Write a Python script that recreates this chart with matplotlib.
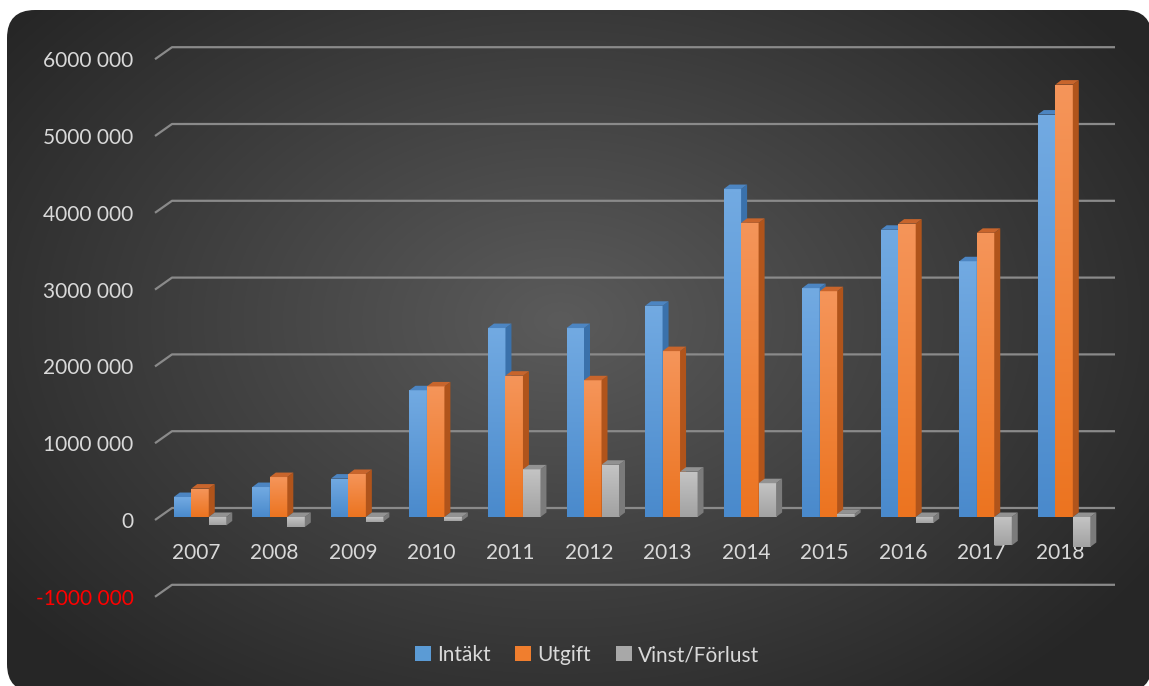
import numpy as np
import matplotlib
matplotlib.use('Agg')
import matplotlib.pyplot as plt
from matplotlib.patches import Polygon, Patch, FancyBboxPatch
from matplotlib.transforms import ScaledTranslation
from matplotlib.colors import to_rgb

plt.rcParams['font.family'] = ['Lato', 'DejaVu Sans']
plt.rcParams['font.size'] = 15

# data (kronor)
years = ['2007', '2008', '2009', '2010', '2011', '2012',
         '2013', '2014', '2015', '2016', '2017', '2018']
intakt = [260000, 390000, 500000, 1650000, 2460000, 2460000,
          2750000, 4270000, 2980000, 3740000, 3330000, 5240000]
utgift = [370000, 520000, 560000, 1700000, 1840000, 1780000,
          2160000, 3830000, 2940000, 3820000, 3700000, 5630000]
vinst = [-110000, -130000, -60000, -50000, 620000, 680000,
         590000, 440000, 40000, -80000, -370000, -390000]
series_names = ['Intäkt', 'Utgift', 'Vinst/Förlust']
yticks = [-1000000, 0, 1000000, 2000000, 3000000, 4000000, 5000000, 6000000]
ytick_labels = ['-1000 000', '0', '1000 000', '2000 000', '3000 000',
                '4000 000', '5000 000', '6000 000']

# colours: front top, front bottom, side, top cap
styles = [
    ('#72aae2', '#4a8acc', '#3a71ab', '#4c85c2'),
    ('#f5955a', '#ec7420', '#b0541b', '#c8652c'),
    ('#c4c4c4', '#a2a2a2', '#7b7b7b', '#929292'),
]
text_col = '#d9d9d9'

W, H = 1149, 686
fig = plt.figure(figsize=(W / 100, H / 100), dpi=100)
fig.patch.set_facecolor('white')

# dark rounded panel with a radial gradient
bg = fig.add_axes([0, 0, 1, 1])
bg.set_xlim(0, W)
bg.set_ylim(H, 0)
bg.axis('off')
yy, xx = np.mgrid[0:H, 0:W]
r = np.sqrt(((xx - 560) / 700) ** 2 + ((yy - 320) / 480) ** 2)
t = np.clip(r, 0, 1)[..., None]
c0 = np.array(to_rgb('#5b5b5b'))
c1 = np.array(to_rgb('#262626'))
img = c0 * (1 - t) + c1 * t
panel = FancyBboxPatch((7, 10), 1145, 682, boxstyle='round,pad=0,rounding_size=28',
                       fc='none', ec='none')
bg.add_patch(panel)
im = bg.imshow(img, extent=(0, W, H, 0), aspect='auto', interpolation='bilinear')
im.set_clip_path(panel)

# main axes, placed in pixel terms
left_px, right_px, top_px, bot_px = 155, 1120, 30, 620
ax = fig.add_axes([left_px / W, 1 - bot_px / H, (right_px - left_px) / W, (bot_px - top_px) / H])
ax.set_facecolor('none')
x_px0, x_step = 196, 78.55
y_px0, y_step = 520, 76.8e-6
xlim = ((left_px - x_px0) / x_step, (right_px - x_px0) / x_step)
ylim = ((y_px0 - bot_px) / y_step, (y_px0 - top_px) / y_step)
sx = 1 / x_step        # data x per pixel
sy = 1 / y_step        # data y per pixel

# 3d-ish gridlines on the back wall
x_end = (1115 - x_px0) / x_step
for v in yticks:
    ax.plot([xlim[0], xlim[0] + 17 * sx, x_end], [v, v + 12 * sy, v + 12 * sy],
            color='#8a8a8a', lw=1.6, zorder=1, clip_on=False, solid_capstyle='butt')

# bars sit a few pixels behind the front edge
bar_tr = ax.transData + ScaledTranslation(0.04, 0.03, fig.dpi_scale_trans)
bw = 17.5 * sx
dx, dy = 6 * sx, 4.5 * sy
grad = np.linspace(0, 1, 64)[:, None]

for k, vals in enumerate([intakt, utgift, vinst]):
    ftop, fbot, side_c, top_c = styles[k]
    cols = np.array(to_rgb(ftop)) * (1 - grad[..., None]) + np.array(to_rgb(fbot)) * grad[..., None]
    xs = np.arange(len(years)) + (k - 1) * bw
    bars = ax.bar(xs, vals, width=bw, color=fbot, transform=bar_tr, linewidth=0)
    for i, b in enumerate(bars):
        z = 3 + i * 0.1 + k * 0.03
        b.set_zorder(z)
        x0 = b.get_x()
        x1 = x0 + b.get_width()
        yt = max(0, vals[i])
        yb = min(0, vals[i])
        gim = ax.imshow(cols, extent=(x0, x1, yb, yt), aspect='auto', transform=bar_tr,
                        zorder=z + 0.005, interpolation='bilinear')
        gim.set_clip_path(b)
        ax.add_patch(Polygon([(x1, yt), (x1 + dx, yt + dy), (x1 + dx, yb + dy), (x1, yb)],
                             closed=True, fc=side_c, ec='none', transform=bar_tr, zorder=z + 0.01))
        ax.add_patch(Polygon([(x0, yt), (x1, yt), (x1 + dx, yt + dy), (x0 + dx, yt + dy)],
                             closed=True, fc=top_c, ec='none', transform=bar_tr, zorder=z + 0.02))

ax.set_xlim(*xlim)
ax.set_ylim(*ylim)
for s in ax.spines.values():
    s.set_visible(False)
ax.spines['bottom'].set_position(('data', 0))
ax.set_xticks(range(len(years)))
ax.set_xticklabels(years)
ax.set_yticks(yticks)
ax.set_yticklabels(ytick_labels)
ax.tick_params(axis='x', length=0, pad=16.5, colors=text_col)
ax.tick_params(axis='y', length=0, pad=15.5, colors=text_col)
ax.get_yticklabels()[0].set_color('red')

handles = [Patch(facecolor=s[0], edgecolor='none') for s in styles]
handles[0].set_facecolor('#5b9bd5')
handles[1].set_facecolor('#f07e2e')
handles[2].set_facecolor('#a8a8a8')
fig.legend(handles, series_names, loc='center', bbox_to_anchor=(587 / W, 1 - 655 / H),
           ncol=3, frameon=False, handlelength=0.75, handleheight=0.75,
           handletextpad=0.3, columnspacing=1.2, labelcolor=text_col)

fig.savefig('out.png', dpi=100, facecolor=fig.get_facecolor())
